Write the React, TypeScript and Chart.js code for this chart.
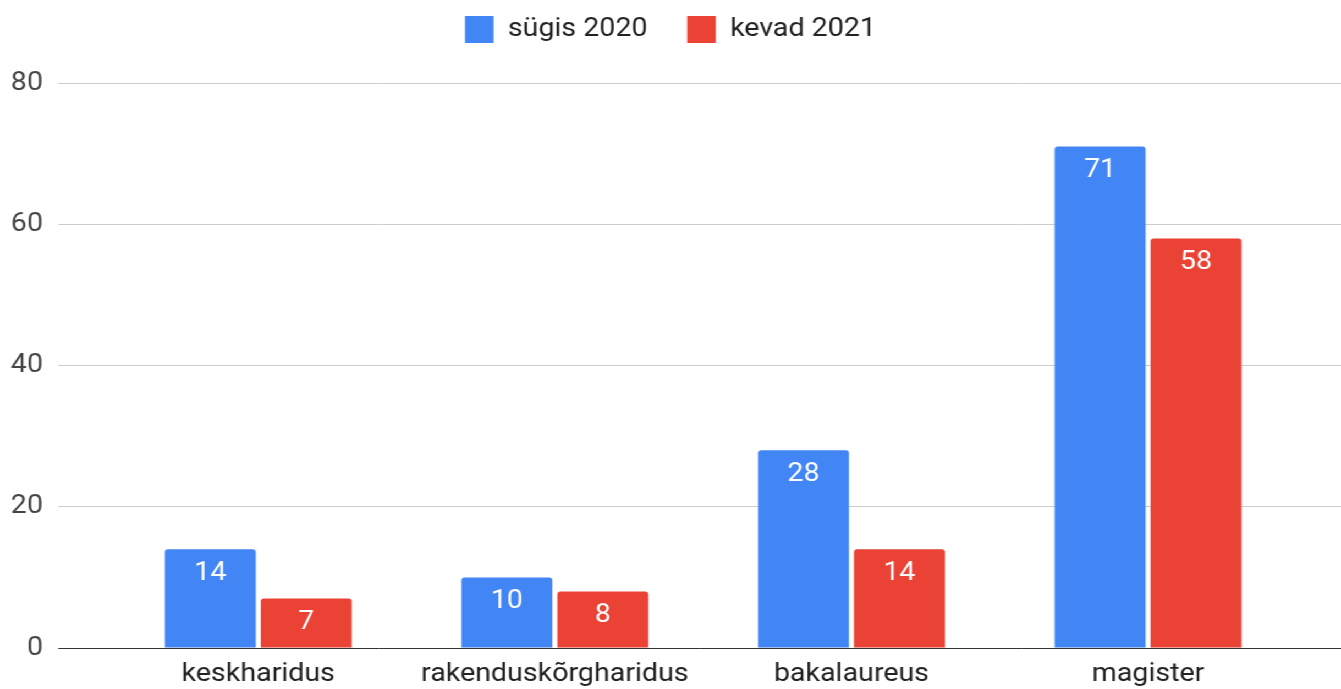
import React, { useEffect, useRef } from "react";
import { Chart, registerables } from "chart.js";

Chart.register(...registerables);

const categories = ["keskharidus", "rakenduskõrgharidus", "bakalaureus", "magister"];
const seriesNames = ["sügis 2020", "kevad 2021"];
const autumn2020 = [14, 10, 28, 71];
const spring2021 = [7, 8, 14, 58];
const yTicks = [0, 20, 40, 60, 80];

const BLUE = "#4285F4";
const RED = "#EA4335";
const FONT = "Roboto";

const PAGE_W = 1341;
const PAGE_H = 689;
const INNER_W = 1219;
const STRETCH = PAGE_W / INNER_W;

const valueLabels = {
  id: "valueLabels",
  afterDatasetsDraw(chart: any) {
    const ctx = chart.ctx;
    ctx.save();
    ctx.font = `26px ${FONT}`;
    ctx.fillStyle = "#ffffff";
    ctx.textAlign = "center";
    ctx.textBaseline = "middle";
    chart.data.datasets.forEach((ds: any, di: number) => {
      const meta = chart.getDatasetMeta(di);
      meta.data.forEach((el: any, i: number) => {
        const v = ds.data[i].y;
        ctx.fillText(String(v), el.x, el.y + 24);
      });
    });
    ctx.restore();
  },
};

export default function App() {
  const ref = useRef<HTMLCanvasElement | null>(null);
  useEffect(() => {
    if (!ref.current) return;
    const chart = new Chart(ref.current, {
      type: "bar",
      data: {
        datasets: [
          {
            label: seriesNames[0],
            data: autumn2020.map((v, i) => ({ x: i, y: v })),
            backgroundColor: BLUE,
            borderRadius: 3,
            borderSkipped: "start",
          },
          {
            label: seriesNames[1],
            data: spring2021.map((v, i) => ({ x: i, y: v })),
            backgroundColor: RED,
            borderRadius: 3,
            borderSkipped: "start",
          },
        ],
      },
      options: {
        animation: false,
        responsive: true,
        maintainAspectRatio: false,
        categoryPercentage: 0.647,
        barPercentage: 0.948,
        layout: { padding: { top: -20, left: 0, right: 0, bottom: 0 } },
        plugins: {
          tooltip: { enabled: false },
          legend: {
            position: "top",
            align: "center",
            labels: {
              boxWidth: 26,
              boxHeight: 27,
              padding: 36,
              color: "#222222",
              font: { family: FONT, size: 26 },
            },
          },
          title: {
            display: true,
            text: "",
            weight: 500,
            padding: 0,
            font: { size: 30, lineHeight: 1 },
          },
        },
        scales: {
          x: {
            type: "linear",
            offset: false,
            min: -0.6742,
            max: 3.6505,
            grid: { display: false, drawTicks: false },
            border: { display: true, color: "#333333", width: 1 },
            afterBuildTicks: (scale: any) => {
              scale.ticks = categories.map((_, i) => ({ value: i }));
            },
            afterFit: (scale: any) => {
              scale.height = 41;
            },
            ticks: {
              padding: 11,
              color: "#222222",
              font: { family: FONT, size: 26 },
              maxRotation: 0,
              autoSkip: false,
              callback: (v: any) => categories[v] ?? "",
            },
          },
          y: {
            min: 0,
            max: 80,
            afterBuildTicks: (scale: any) => {
              scale.ticks = yTicks.map((v) => ({ value: v }));
            },
            afterFit: (scale: any) => {
              scale.width = 53;
            },
            grid: { color: "#cccccc", drawTicks: false, lineWidth: 1 },
            border: { display: false },
            ticks: {
              padding: 14,
              color: "#444444",
              font: { family: FONT, size: 26 },
            },
          },
        },
      },
      plugins: [valueLabels],
    } as any);
    return () => chart.destroy();
  }, []);

  return (
    <div
      style={{
        position: "fixed",
        left: 0,
        top: 0,
        width: INNER_W,
        height: PAGE_H,
        background: "#fff",
        transform: `scaleX(${STRETCH})`,
        transformOrigin: "0 0",
      }}
    >
      <canvas ref={ref} />
    </div>
  );
}
